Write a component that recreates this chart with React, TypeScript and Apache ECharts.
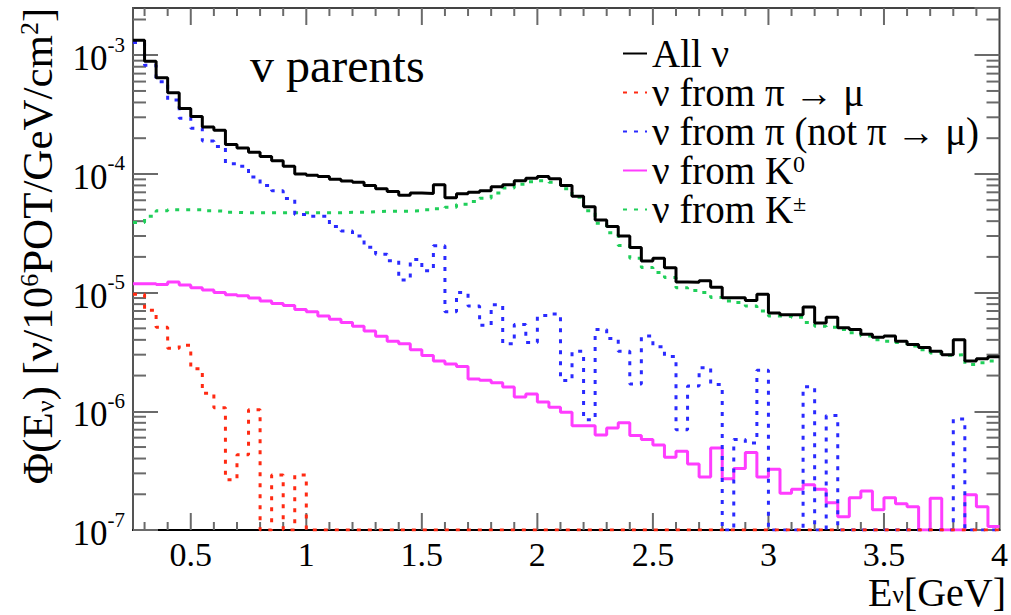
import React, { useEffect, useRef } from "react";
import * as echarts from "echarts";

const FONT = "Liberation Serif, Times New Roman, serif";

// Binning (GeV)
const X_MIN = 0.25;
const X_MAX = 4.0;
const BIN_WIDTH = 0.05;
const N_BINS = 75;
const Y_MIN = 1e-7;
const Y_MAX = 2.5e-3;

// Flux per bin (0 = empty bin)
const allNu = [
  1.34e-3, 8.9e-4, 6.46e-4, 4.82e-4, 3.55e-4, 3.05e-4, 2.48e-4, 2.33e-4, 1.77e-4, 1.65e-4,
  1.52e-4, 1.4e-4, 1.29e-4, 1.16e-4, 1.0e-4, 9.75e-5, 9.5e-5, 9.0e-5, 8.7e-5, 8.5e-5,
  8.0e-5, 7.5e-5, 7.1e-5, 6.6e-5, 6.9e-5, 6.85e-5, 8.1e-5, 6.3e-5, 6.8e-5, 7.0e-5,
  7.2e-5, 7.8e-5, 8.1e-5, 8.75e-5, 9.2e-5, 9.5e-5, 9.1e-5, 8.0e-5, 6.5e-5, 5.3e-5,
  4.1e-5, 3.6e-5, 3.0e-5, 2.4e-5, 1.85e-5, 1.95e-5, 1.62e-5, 1.23e-5, 1.22e-5, 1.26e-5,
  1.11e-5, 9.05e-6, 9.05e-6, 8.6e-6, 9.7e-6, 6.75e-6, 6.5e-6, 6.5e-6, 7.55e-6, 5.55e-6,
  6.2e-6, 5.05e-6, 4.9e-6, 4.45e-6, 4.2e-6, 4.3e-6, 3.9e-6, 3.66e-6, 3.44e-6, 3.2e-6,
  3.0e-6, 4.0e-6, 2.65e-6, 2.77e-6, 2.88e-6,
];

const piToMu = [
  9.7e-6, 7.1e-6, 5.1e-6, 3.4e-6, 3.6e-6, 2.28e-6, 1.42e-6, 1.07e-6, 2.65e-7, 4.3e-7,
  1.03e-6, 0, 2.9e-7, 0, 2.9e-7, 0, 0, 0, 0, 0,
  0, 0, 0, 0, 0, 0, 0, 0, 0, 0,
  0, 0, 0, 0, 0, 0, 0, 0, 0, 0,
  0, 0, 0, 0, 0, 0, 0, 0, 0, 0,
  0, 0, 0, 0, 0, 0, 0, 0, 0, 0,
  0, 0, 0, 0, 0, 0, 0, 0, 0, 0,
  0, 0, 0, 0, 0,
];

const piNotMu = [
  1.28e-3, 8.25e-4, 5.97e-4, 4.2e-4, 2.95e-4, 2.43e-4, 1.89e-4, 1.7e-4, 1.22e-4, 1.16e-4,
  9.4e-5, 8.0e-5, 7.2e-5, 6.2e-5, 4.55e-5, 4.4e-5, 4.4e-5, 3.6e-5, 3.3e-5, 3.0e-5,
  2.41e-5, 2.11e-5, 1.86e-5, 1.28e-5, 1.9e-5, 1.53e-5, 2.48e-5, 6.9e-6, 1.0e-5, 7.7e-6,
  5.3e-6, 7.9e-6, 3.7e-6, 5.4e-6, 3.8e-6, 6.4e-6, 6.6e-6, 1.82e-6, 3.2e-6, 8.5e-7,
  4.9e-6, 4.1e-6, 3.2e-6, 1.7e-6, 4.3e-6, 3.5e-6, 2.9e-6, 7.0e-7, 1.63e-6, 2.33e-6,
  1.68e-6, 0, 5.8e-7, 5.4e-7, 2.22e-6, 0, 0, 0, 1.61e-6, 0,
  9.2e-7, 0, 0, 0, 0, 0, 0, 0, 0, 0,
  0, 8.6e-7, 0, 0, 0,
];

const kZero = [
  1.19e-5, 1.19e-5, 1.17e-5, 1.23e-5, 1.16e-5, 1.1e-5, 1.05e-5, 1.0e-5, 9.6e-6, 9.4e-6,
  9.0e-6, 8.5e-6, 8.1e-6, 7.8e-6, 7.2e-6, 6.9e-6, 6.35e-6, 5.96e-6, 5.6e-6, 5.2e-6,
  4.75e-6, 4.28e-6, 3.9e-6, 3.7e-6, 3.3e-6, 2.95e-6, 2.65e-6, 2.5e-6, 2.38e-6, 1.87e-6,
  1.83e-6, 1.74e-6, 1.6e-6, 1.32e-6, 1.4e-6, 1.2e-6, 1.08e-6, 9.8e-7, 7.55e-7, 7.55e-7,
  6.3e-7, 7.25e-7, 8.0e-7, 6.25e-7, 5.8e-7, 5.2e-7, 4.1e-7, 4.6e-7, 3.6e-7, 2.8e-7,
  4.9e-7, 2.7e-7, 3.3e-7, 4.5e-7, 2.8e-7, 3.25e-7, 2.04e-7, 2.2e-7, 2.4e-7, 2.2e-7,
  1.7e-7, 1.29e-7, 1.87e-7, 2.13e-7, 1.48e-7, 1.87e-7, 1.66e-7, 1.57e-7, 0, 1.85e-7,
  0, 0, 1.98e-7, 1.57e-7, 1.07e-7,
];

const kCharged = [
  3.9e-5, 4.4e-5, 4.9e-5, 5.0e-5, 5.0e-5, 5.0e-5, 4.9e-5, 4.85e-5, 4.75e-5, 4.7e-5,
  4.7e-5, 4.7e-5, 4.7e-5, 4.7e-5, 4.7e-5, 4.7e-5, 4.7e-5, 4.7e-5, 4.75e-5, 4.75e-5,
  4.8e-5, 4.85e-5, 4.85e-5, 4.85e-5, 4.9e-5, 4.98e-5, 5.1e-5, 5.25e-5, 5.55e-5, 5.85e-5,
  6.25e-5, 6.9e-5, 7.6e-5, 8.2e-5, 8.6e-5, 8.75e-5, 8.5e-5, 7.5e-5, 6.35e-5, 4.9e-5,
  3.85e-5, 3.2e-5, 2.5e-5, 1.95e-5, 1.63e-5, 1.48e-5, 1.34e-5, 1.1e-5, 1.04e-5, 1.0e-5,
  9.1e-6, 8.5e-6, 8.25e-6, 7.7e-6, 7.0e-6, 6.35e-6, 6.3e-6, 6.2e-6, 5.6e-6, 5.2e-6,
  5.1e-6, 4.9e-6, 4.6e-6, 4.3e-6, 4.0e-6, 3.9e-6, 3.8e-6, 3.55e-6, 3.3e-6, 3.1e-6,
  2.96e-6, 3.0e-6, 2.48e-6, 2.56e-6, 2.65e-6,
];

const LEGEND_NAMES = [
  "All ν",
  "ν from π → μ",
  "ν from π (not π → μ)",
  "ν from K0",
  "ν from K±",
];

// Axis ticks
const X_MAJOR_TICKS = [0.5, 1, 1.5, 2, 2.5, 3, 3.5];
const X_MINOR_TICKS: number[] = [];
for (let k = 3; k <= 39; k++) if (k % 5 !== 0) X_MINOR_TICKS.push(k / 10);
const Y_MINOR_TICKS: number[] = [];
for (let e = -7; e <= -3; e++)
  for (let m = 2; m <= 9; m++) {
    const v = m * Math.pow(10, e);
    if (v < Y_MAX) Y_MINOR_TICKS.push(v);
  }

const binEdges: number[] = [];
for (let i = 0; i <= N_BINS; i++) binEdges.push(Number((X_MIN + BIN_WIDTH * i).toFixed(2)));

function histData(vals: number[]) {
  return binEdges.map((x, i) => [x, Math.max(vals[Math.min(i, vals.length - 1)], Y_MIN)]);
}

function histSeries(name: string, vals: number[], color: string, dotted: boolean) {
  return {
    name,
    type: "line",
    step: "end",
    data: histData(vals),
    symbol: "none",
    showSymbol: false,
    silent: true,
    lineStyle: {
      color,
      width: 3,
      type: dotted ? [4, 7] : "solid",
      cap: "butt",
    },
    itemStyle: { color },
  };
}

export default function App() {
  const ref = useRef<HTMLDivElement>(null);

  useEffect(() => {
    if (!ref.current) return;
    const chart = echarts.init(ref.current, undefined, { renderer: "svg" });

    const tickData = [
      ...Y_MINOR_TICKS.map((v) => [X_MIN, v, 0]),
      ...X_MINOR_TICKS.map((v) => [v, Y_MIN, 1]),
      ...X_MAJOR_TICKS.map((v) => [v, Y_MIN, 2]),
    ];
    const tickStyle = { stroke: "#6a6a6a", lineWidth: 2 };

    const yLabelRich = {
      b: { fontSize: 35, lineHeight: 42, fontFamily: FONT, color: "#000", verticalAlign: "bottom" },
      s: { fontSize: 21, lineHeight: 18, fontFamily: FONT, color: "#000", verticalAlign: "top" },
    };

    const option: any = {
      animation: false,
      backgroundColor: "#fff",
      textStyle: { fontFamily: FONT },
      grid: {
        left: 133,
        right: 4,
        top: 8,
        bottom: 85,
        show: true,
        borderColor: "#444",
        borderWidth: 2,
        backgroundColor: "transparent",
      },
      legend: {
        orient: "vertical",
        left: 617,
        top: 29,
        itemWidth: 24,
        itemHeight: 14,
        itemGap: 0,
        selectedMode: false,
        data: LEGEND_NAMES,
        itemStyle: { opacity: 0, borderWidth: 0 },
        formatter: (name: string) => {
          if (name === "ν from K0") return "{t|ν from K}{sup|0}";
          if (name === "ν from K±") return "{t|ν from K}{sup|±}";
          return `{t|${name}}`;
        },
        textStyle: {
          color: "#000",
          fontFamily: FONT,
          fontSize: 39,
          rich: {
            t: { fontSize: 39, lineHeight: 38, fontFamily: FONT, color: "#000" },
            sup: { fontSize: 24, lineHeight: 14, fontFamily: FONT, color: "#000", verticalAlign: "top" },
          },
        },
      },
      xAxis: {
        type: "value",
        min: X_MIN,
        max: X_MAX,
        interval: 0.25,
        axisLine: { show: true, lineStyle: { color: "#000", width: 2 } },
        axisTick: { show: false },
        splitLine: { show: false },
        axisLabel: {
          margin: 10,
          fontSize: 34,
          lineHeight: 28,
          fontFamily: FONT,
          color: "#000",
          formatter: (v: number) => {
            const d = v * 2;
            if (Math.abs(d - Math.round(d)) > 1e-6) return "";
            return String(Math.round(v * 10) / 10);
          },
        },
      },
      yAxis: [
        {
          type: "log",
          logBase: 10,
          min: Y_MIN,
          max: Y_MAX,
          axisLine: { show: true, lineStyle: { color: "#555", width: 2 } },
          axisTick: { show: true, inside: true, length: 25, lineStyle: { color: "#6a6a6a", width: 2 } },
          splitLine: { show: false },
          minorTick: { show: false },
          axisLabel: {
            margin: 8,
            showMaxLabel: false,
            fontFamily: FONT,
            formatter: (v: number) => {
              const l = Math.log10(v);
              const e = Math.round(l);
              if (Math.abs(l - e) > 1e-6) return "";
              return `{b|10}{s|${e}}`;
            },
            rich: yLabelRich,
          },
        },
        {
          type: "log",
          logBase: 10,
          min: Y_MIN,
          max: Y_MAX,
          position: "right",
          axisLine: { show: false },
          axisTick: { show: true, inside: true, length: 25, lineStyle: { color: "#6a6a6a", width: 2 } },
          splitLine: { show: false },
          axisLabel: { show: false },
        },
      ],
      graphic: [
        {
          type: "text",
          x: 250,
          y: 65,
          style: {
            text: "v parents",
            fill: "#000",
            font: `48px ${FONT}`,
            align: "left",
            verticalAlign: "middle",
          },
        },
        {
          type: "text",
          x: 1006,
          y: 592,
          style: {
            text: "{a|E}{b|ν}{a|[GeV]}",
            fill: "#000",
            font: `40px ${FONT}`,
            align: "right",
            verticalAlign: "middle",
            rich: {
              a: { fontSize: 40, lineHeight: 30, fontFamily: FONT, fill: "#000" },
              b: { fontSize: 25, lineHeight: 10, fontFamily: FONT, fill: "#000", verticalAlign: "bottom" },
            },
          },
        },
        {
          type: "text",
          x: 37,
          y: 246,
          rotation: Math.PI / 2,
          style: {
            text: "{n|Φ(E}{sub|ν}{n|) [ν/10}{sup|6}{n|POT/GeV/cm}{sup|2}{n|]}",
            fill: "#000",
            font: `43px ${FONT}`,
            align: "center",
            verticalAlign: "middle",
            rich: {
              n: { fontSize: 43, lineHeight: 42, fontFamily: FONT, fill: "#000" },
              sub: { fontSize: 26, lineHeight: 20, fontFamily: FONT, fill: "#000", verticalAlign: "bottom" },
              sup: { fontSize: 26, lineHeight: 20, fontFamily: FONT, fill: "#000", verticalAlign: "top" },
            },
          },
        },
      ],
      series: [
        {
          name: "ticks",
          type: "custom",
          silent: true,
          clip: false,
          data: tickData,
          renderItem: (params: any, api: any) => {
            const cs = params.coordSys;
            const kind = api.value(2);
            if (kind === 0) {
              const y = api.coord([X_MIN, api.value(1)])[1];
              return {
                type: "group",
                children: [
                  { type: "line", shape: { x1: cs.x, y1: y, x2: cs.x + 13, y2: y }, style: tickStyle },
                  { type: "line", shape: { x1: cs.x + cs.width - 13, y1: y, x2: cs.x + cs.width, y2: y }, style: tickStyle },
                ],
              };
            }
            const x = api.coord([api.value(0), Y_MIN])[0];
            const len = kind === 2 ? 17 : 8;
            const bottom = cs.y + cs.height;
            return {
              type: "group",
              children: [
                { type: "line", shape: { x1: x, y1: bottom, x2: x, y2: bottom - len }, style: tickStyle },
                { type: "line", shape: { x1: x, y1: cs.y, x2: x, y2: cs.y + len }, style: tickStyle },
              ],
            };
          },
        },
        histSeries("ν from K±", kCharged, "#20cf5a", true),
        histSeries("ν from K0", kZero, "#ff3dff", false),
        histSeries("ν from π (not π → μ)", piNotMu, "#2a2aff", true),
        histSeries("ν from π → μ", piToMu, "#ff2a12", true),
        histSeries("All ν", allNu, "#000000", false),
      ],
    };

    chart.setOption(option);
    return () => chart.dispose();
  }, []);

  return (
    <div
      ref={ref}
      style={{ position: "fixed", left: 0, top: 0, width: 1011, height: 615, background: "#fff" }}
    />
  );
}
